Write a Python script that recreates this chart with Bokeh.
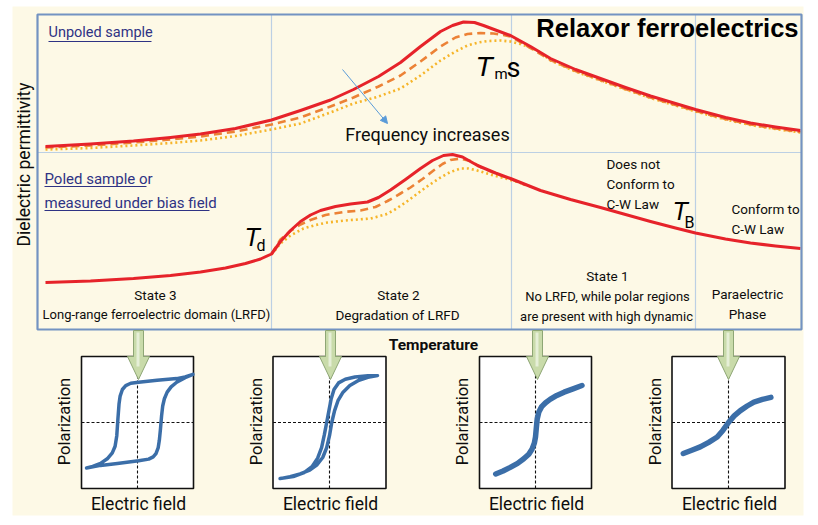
from math import pi
from bokeh.plotting import figure
from bokeh.models import Range1d, Arrow, NormalHead
from bokeh.core.properties import value
from bokeh.embed import file_html
from bokeh.resources import INLINE

# ---------------- data ----------------
# Unpoled sample: temperature (a.u.) vs dielectric permittivity (a.u.), three frequencies
up_low_T = [2, 13.25, 24, 33.25, 40.75, 49.5, 58.5, 65.75, 73.25, 79, 85.25, 90.75, 95.75, 100.75, 103.75, 106.5, 109.25, 111.5, 114.5, 118.25, 123.25, 128.25, 134.5, 140.75, 147, 153.25, 159.5, 164.5, 172, 178.25, 184.5, 190.75]
up_low_eps = [0.6, 0.85, 1.15, 1.5, 1.85, 2.4, 3.25, 4.2, 5.25, 6.3, 7.6, 9.0, 10.6, 12.1, 12.7, 13.05, 13.0, 12.7, 12.25, 11.7, 10.6, 9.4, 8.3, 7.4, 6.5, 5.65, 4.9, 4.3, 3.5, 2.95, 2.55, 2.2]
up_mid_T = [2, 13.25, 24, 33.25, 40.75, 49.5, 58.5, 65.75, 73.25, 79, 85.25, 90.75, 95.75, 100.75, 104.5, 107.5, 110.75, 114, 116.5, 118.25, 123.25, 128.25, 134.5, 140.75, 147, 153.25, 159.5, 164.5, 172, 178.25, 184.5, 190.75]
up_mid_eps = [0.5, 0.7, 1.0, 1.3, 1.6, 2.1, 2.8, 3.5, 4.6, 5.5, 6.6, 7.7, 9.1, 10.6, 11.5, 11.85, 11.95, 11.9, 11.75, 11.6, 10.45, 9.25, 8.15, 7.25, 6.35, 5.5, 4.75, 4.15, 3.35, 2.8, 2.4, 2.05]
up_high_T = [2, 13.25, 24, 33.25, 40.75, 49.5, 58.5, 65.75, 73.25, 79, 85.25, 90.75, 95.75, 100.75, 104.5, 107.5, 110.25, 112.5, 115.75, 118.25, 120.75, 123.25, 125.75, 128.25, 134.5, 140.75, 147, 153.25, 159.5, 164.5, 172, 178.25, 184.5, 190.75]
up_high_eps = [0.3, 0.45, 0.7, 0.95, 1.2, 1.65, 2.3, 2.9, 4.0, 4.9, 5.6, 6.4, 7.7, 9.2, 10.1, 10.7, 11.0, 11.15, 11.2, 11.1, 10.85, 10.5, 10.0, 9.2, 8.1, 7.2, 6.3, 5.45, 4.7, 4.1, 3.3, 2.75, 2.35, 2.0]

# Poled sample / measured under bias field
lo_low_T = [2, 13.25, 24, 33.25, 40.75, 47, 52, 55.75, 58.5, 60.75, 63.25, 65.75, 68.25, 70.75, 74.5, 78.25, 82.5, 85.25, 88.25, 92, 95.75, 98.75, 101.5, 103.75, 106.25, 110, 114.5, 118.25, 122, 125.75, 133.25, 140.75, 147, 153.25, 159.5, 164.5, 172, 178.25, 184.5, 190.75]
lo_low_eps = [4.9, 5.05, 5.3, 5.6, 5.95, 6.35, 6.8, 7.25, 7.75, 9.0, 10.1, 11.0, 11.65, 12.1, 12.5, 12.75, 12.95, 13.4, 14.15, 15.2, 16.3, 17.1, 17.6, 17.7, 17.45, 16.6, 15.85, 15.3, 14.7, 14.1, 13.2, 12.4, 11.7, 11.0, 10.35, 9.85, 9.25, 8.85, 8.55, 8.3]
lo_mid_T = [58.5, 60.75, 63.25, 65.75, 68.25, 72, 76.5, 80.75, 84.5, 87.5, 90.75, 93.25, 96.25, 99, 101.25, 103.25, 105.75, 108.25, 110.75, 114.5, 118.25, 122]
lo_mid_eps = [7.75, 9.2, 10.05, 10.7, 11.15, 11.65, 11.95, 12.1, 12.45, 13.05, 13.8, 14.4, 15.25, 16.1, 16.75, 17.15, 17.3, 17.05, 16.45, 15.8, 15.25, 14.65]
lo_high_T = [58.5, 60.75, 63.25, 66.5, 69.5, 72.5, 77, 83.25, 87, 89, 92, 95, 97.75, 100.75, 103.25, 105.75, 107.75, 109.5, 112, 114.5, 117, 120, 123.25]
lo_high_eps = [7.7, 8.8, 9.6, 10.3, 10.65, 10.9, 11.1, 11.3, 11.7, 12.1, 12.9, 13.8, 14.6, 15.4, 15.95, 16.3, 16.3, 16.15, 15.85, 15.55, 15.3, 14.95, 14.5]

# characteristic temperatures: T_d, T_m, T_B
T_marks = [58.5, 118.5, 164.5]

# P-E loops (normalised electric field E, polarization P)
loop1_E = [-0.91, -0.66, -0.36, 0.02, 0.20, 0.28, 0.33, 0.37, 0.39, 0.41, 0.43, 0.45, 0.48, 0.53, 0.60, 0.70, 0.85, 0.99,
           0.85, 0.70, 0.35, 0.02, -0.12, -0.21, -0.27, -0.31, -0.33, -0.35, -0.37, -0.40, -0.45, -0.54, -0.66, -0.80, -0.91]
loop1_P = [-0.69, -0.65, -0.62, -0.58, -0.555, -0.52, -0.47, -0.38, -0.27, -0.10, 0.10, 0.25, 0.36, 0.46, 0.54, 0.61, 0.68, 0.73,
           0.69, 0.665, 0.64, 0.61, 0.595, 0.56, 0.50, 0.40, 0.28, 0.05, -0.20, -0.36, -0.46, -0.55, -0.62, -0.665, -0.69]
loop2_E = [-0.875, -0.70, -0.52, -0.35, -0.22, -0.12, -0.05, 0.0, 0.04, 0.09, 0.15, 0.24, 0.36, 0.52, 0.68, 0.85,
           0.68, 0.45, 0.28, 0.16, 0.08, 0.03, -0.01, -0.05, -0.09, -0.14, -0.21, -0.31, -0.45, -0.64, -0.875]
loop2_P = [-0.85, -0.82, -0.78, -0.72, -0.64, -0.53, -0.38, -0.20, 0.0, 0.18, 0.33, 0.46, 0.56, 0.64, 0.685, 0.71,
           0.71, 0.69, 0.655, 0.60, 0.50, 0.36, 0.18, 0.0, -0.18, -0.38, -0.54, -0.67, -0.76, -0.82, -0.85]
loop3_E = [-0.71, -0.58, -0.45, -0.32, -0.21, -0.12, -0.06, -0.02, 0.0, 0.015, 0.03, 0.06, 0.11, 0.18, 0.26, 0.38, 0.51, 0.67, 0.83]
loop3_P = [-0.78, -0.735, -0.68, -0.62, -0.55, -0.48, -0.40, -0.31, -0.22, -0.08, 0.05, 0.16, 0.24, 0.30, 0.35, 0.41, 0.46, 0.51, 0.56]
loop4_E = [-0.80, -0.65, -0.50, -0.35, -0.20, -0.10, 0.0, 0.10, 0.21, 0.33, 0.45, 0.60, 0.75]
loop4_P = [-0.47, -0.42, -0.37, -0.30, -0.22, -0.12, 0.0, 0.10, 0.18, 0.25, 0.31, 0.35, 0.38]

# ---------------- layout / style ----------------
W, H = 810, 517
FX0, FX1, FY0, FY1 = 0, 810, 0, 517
BOX_L, BOX_R, BOX_T, BOX_B, BOX_MID = 37, 801, 14, 329, 152
T_PX0, T_PX_PER = 37, 4.0
EPS_PX_PER = 10.0
UP_BASE, LO_BASE = 152, 331
HB_CX = [137, 329, 535, 728]
HB_HX = [56, 56.5, 56, 56.5]
HB_CY, HB_HY = 422, 66
ARROW_X = [138, 330, 537, 728]

FONT = "Roboto"
INK = "#0d0d0d"
RED, ORANGE, YELLOW = "#e6232a", "#ec8236", "#f6b52a"
BLUE = "#3b6ea8"

p = figure(width=W, height=H, x_range=Range1d(FX0, FX1), y_range=Range1d(FY1, FY0),
           output_backend="svg", toolbar_location=None, min_border=0,
           x_axis_location=None, y_axis_location=None)
p.grid.visible = False
p.outline_line_color = None
p.background_fill_color = "white"
p.border_fill_color = "white"

p.extra_x_ranges = {"T": Range1d((FX0 - T_PX0) / T_PX_PER, (FX1 - T_PX0) / T_PX_PER)}
p.extra_y_ranges = {
    "eu": Range1d((UP_BASE - FY1) / EPS_PX_PER, (UP_BASE - FY0) / EPS_PX_PER),
    "el": Range1d((LO_BASE - FY1) / EPS_PX_PER, (LO_BASE - FY0) / EPS_PX_PER),
    "P": Range1d((HB_CY - FY1) / HB_HY, (HB_CY - FY0) / HB_HY),
}
for i, (cx, hx) in enumerate(zip(HB_CX, HB_HX)):
    p.extra_x_ranges["E%d" % i] = Range1d((FX0 - cx) / hx, (FX1 - cx) / hx)

# background
p.quad(left=12, right=803, top=6, bottom=515, fill_color="#fdf9e6", line_color=None)

# dividers at the characteristic temperatures
p.segment(x0=T_marks, x1=T_marks, y0=[BOX_T] * 3, y1=[BOX_B] * 3, x_range_name="T",
          line_color="#bcd0e4", line_width=1.2)
p.segment(x0=[BOX_L], x1=[BOX_R], y0=[BOX_MID], y1=[BOX_MID], line_color="#bcd0e4", line_width=1.2)

def curve(T, e, rng, color, dash, width):
    p.line(T, e, x_range_name="T", y_range_name=rng, line_color=color, line_dash=dash,
           line_width=width, line_join="round", line_cap="butt")

curve(up_high_T, up_high_eps, "eu", YELLOW, "2 3", 2.6)
curve(up_mid_T, up_mid_eps, "eu", ORANGE, "8 5", 2.6)
curve(up_low_T, up_low_eps, "eu", RED, "solid", 3.0)
curve(lo_high_T, lo_high_eps, "el", YELLOW, "2 3", 2.6)
curve(lo_mid_T, lo_mid_eps, "el", ORANGE, "8 5", 2.6)
curve(lo_low_T, lo_low_eps, "el", RED, "solid", 3.0)

# main frame
p.quad(left=BOX_L, right=BOX_R, top=BOX_T, bottom=BOX_B, fill_color=None,
       line_color="#7393c2", line_width=2.2)

# frequency arrow
p.add_layout(Arrow(end=NormalHead(size=7, fill_color="#5a9bd8", line_color="#5a9bd8"),
                   x_start=342, y_start=69, x_end=387, y_end=123,
                   line_color="#5a9bd8", line_width=1))

def txt(x, y, s, size, font=FONT, align="left", baseline="middle", color=INK,
        style="normal", angle=0):
    p.text(x=[x], y=[y], text=[s], text_font=value(font), text_font_size=value(size),
           text_align=align, text_baseline=baseline, text_color=color,
           text_font_style=style, angle=angle)

txt(798, 27, "Relaxor ferroelectrics", "25.5px", font="Liberation Sans", align="right", style="bold", color="#000000")
DB = "#2f3384"
txt(48, 32, "Unpoled sample", "14.5px", color=DB)
txt(44, 178, "Poled sample or", "15px", color=DB)
txt(44, 202, "measured under bias field", "15px", color=DB)
p.segment(x0=[48, 44, 44], x1=[151, 146, 209], y0=[41, 186, 210], y1=[41, 186, 210], line_color=DB, line_width=1)

txt(23, 164, "Dielectric permittivity", "17.5px", align="center", angle=pi / 2)
txt(427, 134, "Frequency increases", "18px", align="center")
txt(433, 344, "Temperature", "15.5px", align="center", style="bold")

# T labels
txt(475, 66, "T", "28px", font="Liberation Sans", style="italic", color="#000000")
txt(494, 73, "m", "15px", color="#000000")
txt(506, 67, "s", "27px", color="#000000")
txt(244, 236, "T", "25px", font="Liberation Sans", style="italic", color="#000000")
txt(256, 245, "d", "16px", color="#000000")
txt(672, 210, "T", "25px", font="Liberation Sans", style="italic", color="#000000")
txt(684, 222, "B", "16px", color="#000000")

for i, s in enumerate(["Does not", "Conform to", "C-W Law"]):
    txt(606, 163 + 20 * i, s, "13.5px")
for i, s in enumerate(["Conform to", "C-W Law"]):
    txt(731, 208 + 20 * i, s, "13.5px")
txt(155, 294, "State 3", "13.5px", align="center")
txt(156, 314, "Long-range ferroelectric domain (LRFD)", "13px", align="center")
txt(398, 294, "State 2", "13.5px", align="center")
txt(397, 314, "Degradation of LRFD", "13.5px", align="center")
txt(607, 275, "State 1", "13.5px", align="center")
txt(607, 296, "No LRFD, while polar regions", "13px", align="center")
txt(606, 316, "are present with high dynamic", "13px", align="center")
txt(747, 293, "Paraelectric", "13.5px", align="center")
txt(747, 313, "Phase", "13.5px", align="center")

# hysteresis boxes
loops = [(loop1_E, loop1_P, 3.5), (loop2_E, loop2_P, 3.5), (loop3_E, loop3_P, 5.5), (loop4_E, loop4_P, 5.5)]
for i, (E, P, lw) in enumerate(loops):
    xr = "E%d" % i
    p.quad(left=-1, right=1, bottom=-1, top=1, x_range_name=xr, y_range_name="P",
           fill_color="white", line_color="#111111", line_width=1.6)
    p.segment(x0=[0, -1], x1=[0, 1], y0=[-1, 0], y1=[1, 0], x_range_name=xr, y_range_name="P",
              line_color="#111111", line_width=1.1, line_dash="3 2")
    p.line(E, P, x_range_name=xr, y_range_name="P", line_color=BLUE, line_width=lw,
           line_join="round", line_cap="round")
    cx = HB_CX[i]
    txt(cx + 1, 503, "Electric field", "17.5px", align="center")
    txt(cx - 73, HB_CY - 1, "Polarization", "16.5px", align="center", angle=pi / 2)

# green arrows
xs, ys, xs2, ys2 = [], [], [], []
for c in ARROW_X:
    xs.append([c - 5, c + 5, c + 5, c + 11, c, c - 11, c - 5])
    ys.append([330, 330, 356, 356, 379, 356, 356])
    xs2.append([c - 2, c + 1, c + 1, c - 2])
    ys2.append([332, 332, 366, 366])
p.patches(xs, ys, fill_color="#c9dbaa", line_color="#8ea675", line_width=1)
p.patches(xs2, ys2, fill_color="#eef4e2", line_color=None, fill_alpha=0.8)

open("out.html", "w").write(file_html(p, INLINE))
